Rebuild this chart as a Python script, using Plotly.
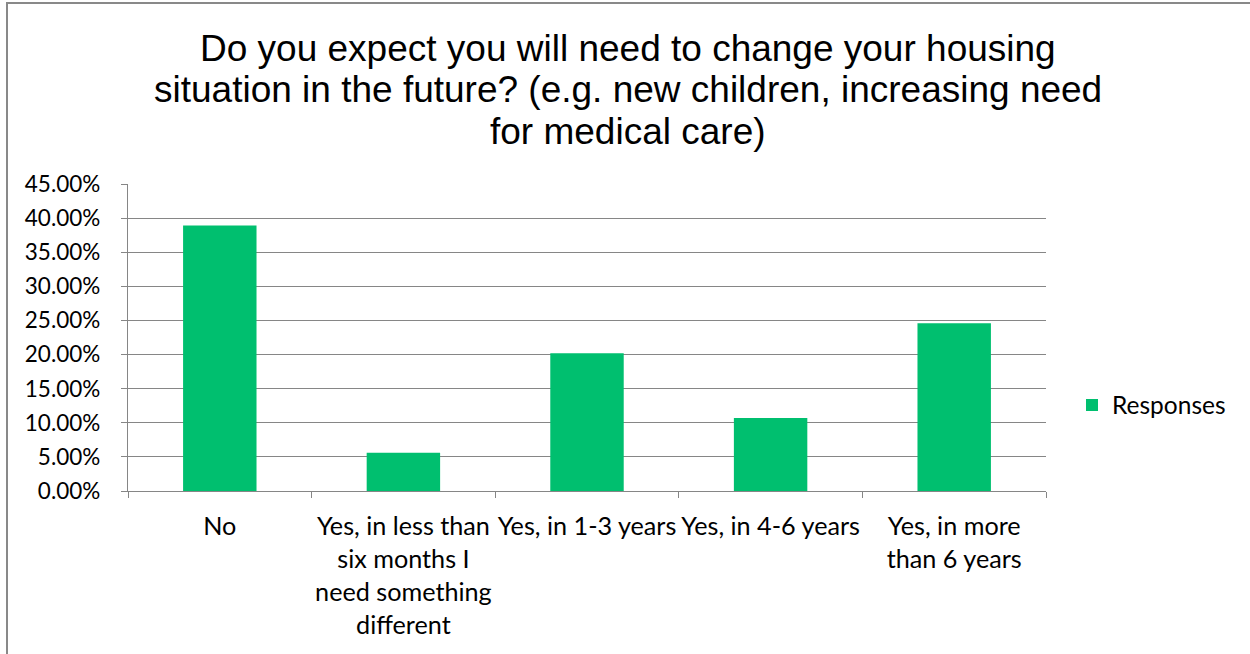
import plotly.graph_objects as go

# Survey answers and share of responses
categories = ["No",
              "Yes, in less than six months I need something different",
              "Yes, in 1-3 years",
              "Yes, in 4-6 years",
              "Yes, in more than 6 years"]
category_ticktext = ["No",
                     "Yes, in less than<br>six months I<br>need something<br>different",
                     "Yes, in 1-3 years",
                     "Yes, in 4-6 years",
                     "Yes, in more<br>than 6 years"]
responses = [0.389, 0.056, 0.202, 0.107, 0.246]
y_ticks = [0.0, 0.05, 0.10, 0.15, 0.20, 0.25, 0.30, 0.35, 0.40, 0.45]
title_lines = ["Do you expect you will need to change your housing",
               "situation in the future? (e.g. new children, increasing need",
               "for medical care)"]

W, H = 1250, 654
L, R, T, B = 128, 204, 184, 163
pw, ph = W - L - R, H - T - B

grid = "#868686"
body_font = "Lato, Calibri, sans-serif"

fig = go.Figure(go.Bar(
    x=categories, y=responses, name="Responses",
    marker=dict(color="#00bf6f", line=dict(width=0)),
))

# chart title, one annotation per line for tighter leading
annotations = []
for i, line in enumerate(title_lines):
    annotations.append(dict(
        x=(628 - L) / pw, xref="paper", y=1, yref="paper",
        yanchor="middle", xanchor="center", yshift=T - 48 - i * 41.5,
        text=line, showarrow=False,
        font=dict(family="Liberation Sans, Arial, sans-serif", size=37, color="#000000"),
    ))

fig.update_layout(
    width=W, height=H,
    margin=dict(l=L, r=R, t=T, b=B, pad=0, autoexpand=False),
    paper_bgcolor="white", plot_bgcolor="white",
    bargap=0.6,
    showlegend=True,
    legend=dict(x=(1072 - L) / pw, xanchor="left", y=(491 - 405) / ph, yanchor="middle",
                font=dict(family=body_font, size=24.5, color="#000000"),
                bgcolor="rgba(0,0,0,0)"),
    annotations=annotations,
    shapes=[dict(type="rect", xref="paper", yref="paper",
                 x0=(7 - L) / pw, x1=(1262 - L) / pw,
                 y0=-(H + 10 - T - ph) / ph, y1=1 + (T - 3) / ph,
                 line=dict(color="#898989", width=2), layer="below")],
    xaxis=dict(
        type="category", tickmode="array", tickvals=categories, ticktext=category_ticktext,
        tickson="boundaries", tickangle=0, automargin=False,
        tickfont=dict(family=body_font, size=25.2, color="#000000"),
        ticks="outside", ticklen=6, tickcolor=grid, tickwidth=1,
        showline=True, linecolor=grid, linewidth=1.3, showgrid=False,
        ticklabelstandoff=13,
    ),
    yaxis=dict(
        range=[0, 0.45], tickvals=y_ticks, tickformat=".2%", automargin=False,
        ticks="outside", ticklen=6, tickcolor=grid, tickwidth=1,
        showline=True, linecolor=grid, linewidth=1.3,
        showgrid=True, gridcolor=grid, gridwidth=1.3,
        tickfont=dict(family=body_font, size=22.5, color="#000000"),
        ticklabelstandoff=16, zeroline=False,
    ),
)

fig.write_html("out.html")
